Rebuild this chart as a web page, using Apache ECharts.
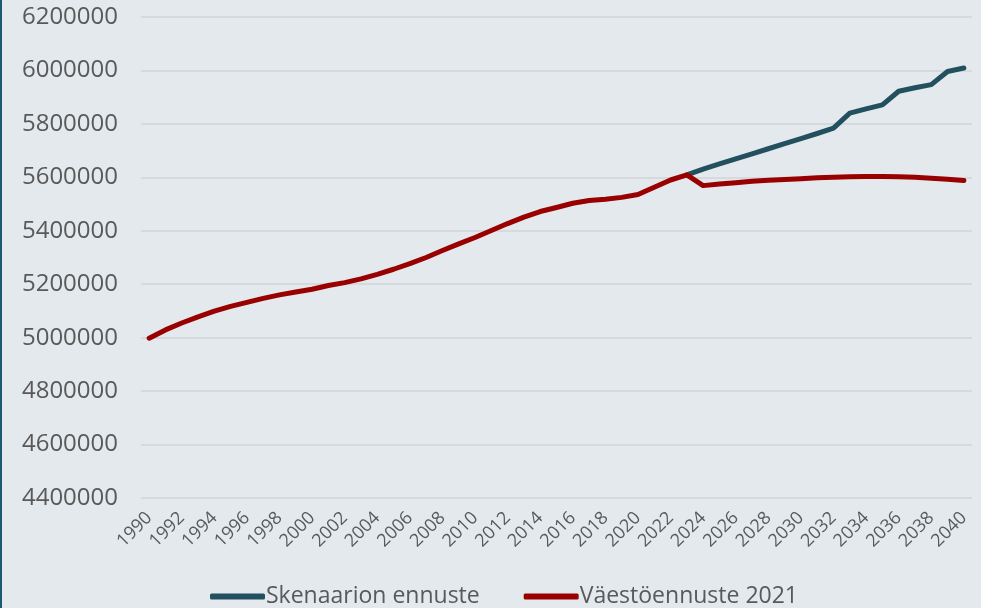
<!DOCTYPE html>
<html>
<head>
<meta charset="utf-8">
<script src="https://cdn.jsdelivr.net/npm/echarts@6/dist/echarts.min.js"></script>
<style>
html,body{margin:0;padding:0;background:#e4e9ed;}
#c{width:981px;height:608px;}
</style>
</head>
<body>
<div id="c"></div>
<script>
var years = [];
for (var y = 1990; y <= 2040; y++) years.push(String(y));

var yTicks = { min: 4400000, max: 6200000, step: 200000 };

var vaestoennuste2021 = [
  4998000, 5029000, 5055000, 5078000, 5099000, 5117000, 5132000, 5147000, 5160000, 5171000,
  5181000, 5195000, 5206000, 5220000, 5237000, 5256000, 5277000, 5300000, 5326000, 5351000,
  5375000, 5401000, 5427000, 5451000, 5472000, 5487000, 5503000, 5513000, 5518000, 5525000,
  5536000, 5563000, 5590000, 5609000, 5569000, 5575000, 5580000, 5585000, 5589000, 5592000,
  5595000, 5598000, 5600000, 5602000, 5603000, 5603000, 5602000, 5600000, 5597000, 5593000,
  5588000
];

var skenaarionEnnuste = [
  null, null, null, null, null, null, null, null, null, null,
  null, null, null, null, null, null, null, null, null, null,
  null, null, null, null, null, null, null, null, null, null,
  null, null, null, 5609000, 5631000, 5650000, 5669000, 5688000, 5707000, 5726000,
  5745000, 5764000, 5784000, 5840000, 5856000, 5871000, 5922000, 5935000, 5947000, 5996000,
  6009000
];

var chart = echarts.init(document.getElementById('c'));
var font = '"Open Sans", sans-serif';
chart.setOption({
  backgroundColor: '#e4e9ed',
  animation: false,
  textStyle: { fontFamily: font },
  graphic: [{
    type: 'rect', left: 0, top: 0,
    shape: { x: 0, y: 0, width: 2, height: 608 },
    style: { fill: '#1d5a73' }
  }],
  grid: { left: 141, right: 9, top: 17, bottom: 110, containLabel: false },
  legend: {
    bottom: -5, left: 205,
    itemWidth: 55, itemHeight: 6, itemGap: 44,
    icon: 'roundRect',
    textStyle: { fontFamily: font, fontSize: 23, color: '#595959', padding: [0,0,0,-4] },
    data: ['Skenaarion ennuste', 'Väestöennuste 2021']
  },
  xAxis: {
    type: 'category',
    data: years,
    boundaryGap: true,
    axisLine: { show: false },
    axisTick: { show: false },
    axisLabel: {
      interval: 1, rotate: 45, margin: 17,
      fontFamily: font, fontSize: 18, color: '#595959'
    }
  },
  yAxis: {
    type: 'value',
    min: yTicks.min, max: yTicks.max, interval: yTicks.step,
    axisLine: { show: false },
    axisTick: { show: false },
    axisLabel: {
      margin: 23, fontFamily: font, fontSize: 24, color: '#595959',
      formatter: function (v) { return String(v); }
    },
    splitLine: { lineStyle: { color: '#d7dadd', width: 2 } }
  },
  series: [
    {
      name: 'Skenaarion ennuste', type: 'line', data: skenaarionEnnuste,
      showSymbol: false, symbol: 'none', connectNulls: false,
      itemStyle: { color: '#23505f' },
      lineStyle: { color: '#23505f', width: 5, cap: 'round', join: 'round' }
    },
    {
      name: 'Väestöennuste 2021', type: 'line', data: vaestoennuste2021,
      showSymbol: false, symbol: 'none',
      itemStyle: { color: '#990000' },
      lineStyle: { color: '#990000', width: 5, cap: 'round', join: 'round' }
    }
  ]
});
</script>
</body>
</html>
